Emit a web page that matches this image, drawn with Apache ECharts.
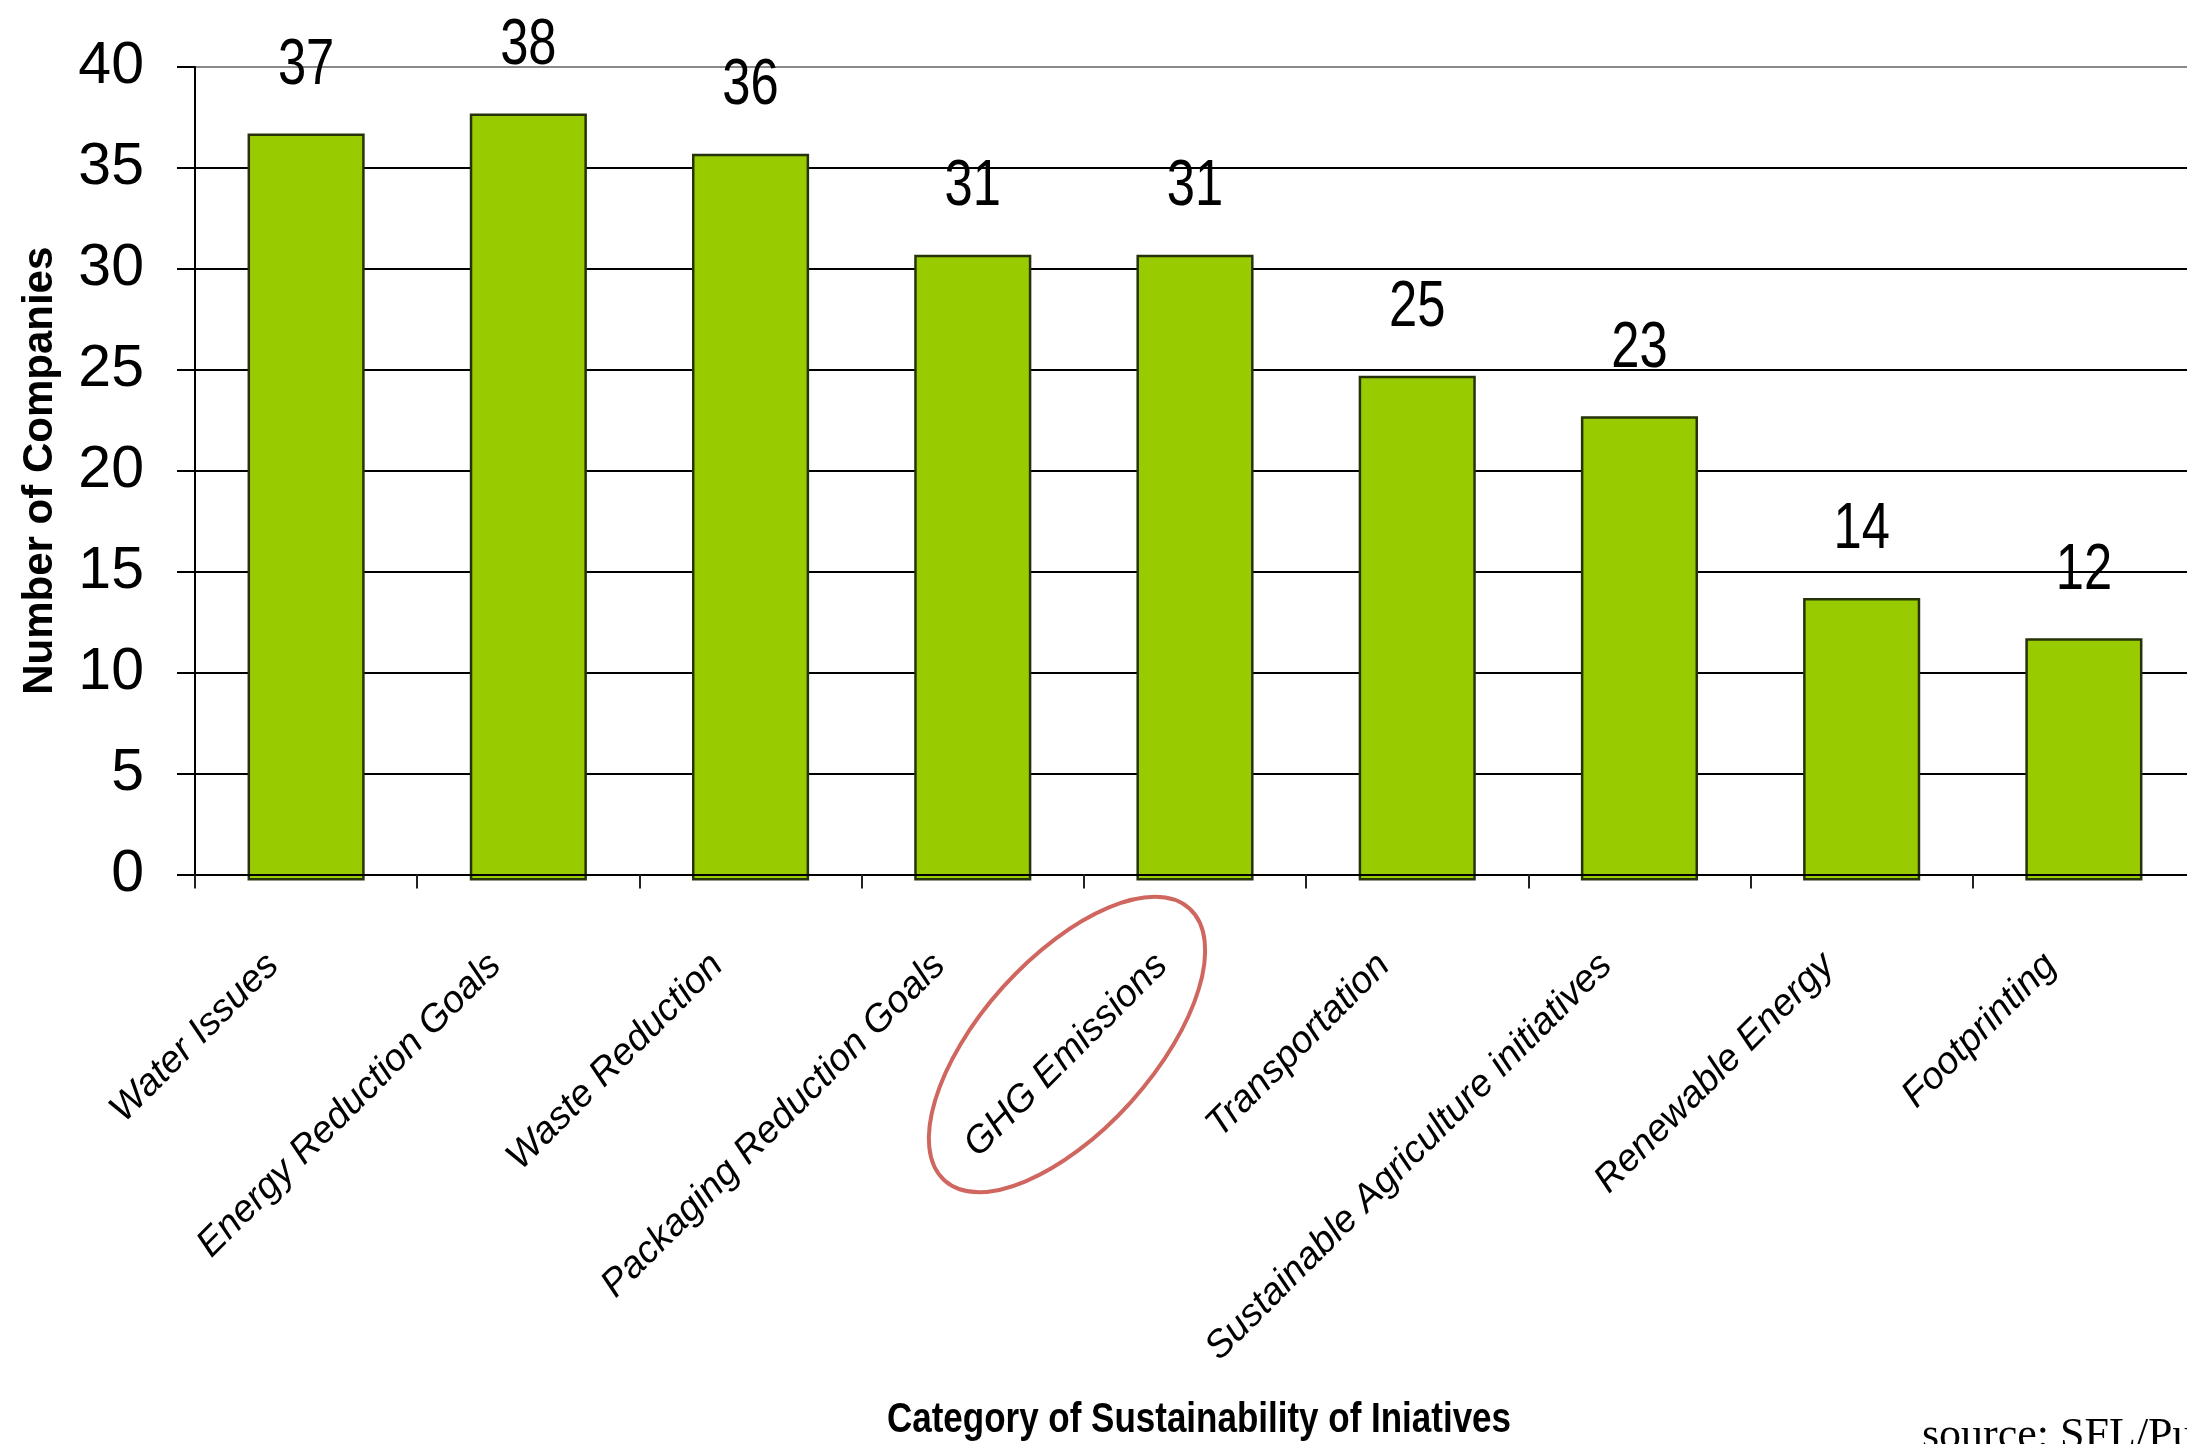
<!DOCTYPE html>
<html>
<head>
<meta charset="utf-8">
<style>
  html, body { margin: 0; padding: 0; background: #ffffff; }
  #chart { width: 2187px; height: 1444px; }
</style>
<script src="https://cdn.jsdelivr.net/npm/echarts@6/dist/echarts.min.js"></script>
</head>
<body>
<div id="chart"></div>
<script>
const categories = [
  'Water Issues',
  'Energy Reduction Goals',
  'Waste Reduction',
  'Packaging Reduction Goals',
  'GHG Emissions',
  'Transportation',
  'Sustainable Agriculture initiatives',
  'Renewable Energy',
  'Footprinting'
];
const companies = [37, 38, 36, 31, 31, 25, 23, 14, 12];
const yMin = 0, yMax = 40, yStep = 5;
const xTitle = 'Category of Sustainability of Iniatives';
const yTitle = 'Number of Companies';
const sourceNote = 'source: SFL/Pu';
const highlighted = 'GHG Emissions';

const SANS = '"Liberation Sans", Arial, Helvetica, sans-serif';

const G = { left: 195, right: -8, top: 67, bottom: 569.5 };
const BAR_SHIFT = 6;

const chart = echarts.init(document.getElementById('chart'), null, { renderer: 'canvas' });

const gridColors = [];
for (let v = yMin; v <= yMax; v += yStep) gridColors.push(v === yMax ? '#8a8a8a' : '#000000');

const labelData = companies.map((v, i) => [categories[i], v]);

chart.setOption({
  backgroundColor: '#ffffff',
  animation: false,
  grid: [
    { left: G.left, right: G.right, top: G.top, bottom: G.bottom, outerBoundsMode: 'none', containLabel: false },
    { left: G.left, right: G.right, top: G.top + BAR_SHIFT, bottom: G.bottom - BAR_SHIFT, outerBoundsMode: 'none', containLabel: false }
  ],
  xAxis: [
    {
      type: 'category', gridIndex: 0, data: categories, z: 5,
      boundaryGap: true,
      axisLine: { show: true, lineStyle: { color: '#000', width: 2 } },
      axisTick: { show: true, length: 14, alignWithLabel: false, lineStyle: { color: '#222', width: 2 } },
      axisLabel: {
        interval: 0, rotate: 45, margin: 52,
        padding: [0, 47, 0, 0],
        fontFamily: SANS, fontStyle: 'italic', fontSize: 38, color: '#000'
      }
    },
    {
      type: 'category', gridIndex: 1, data: categories, show: false
    }
  ],
  yAxis: [
    {
      type: 'value', gridIndex: 0, min: yMin, max: yMax, interval: yStep,
      axisLine: { show: true, lineStyle: { color: '#000', width: 2 } },
      axisTick: { show: true, length: 18, lineStyle: { color: '#000', width: 2 } },
      axisLabel: { margin: 51, fontFamily: SANS, fontSize: 59, color: '#000' },
      splitLine: { show: true, lineStyle: { color: gridColors, width: 2 } },
      name: yTitle, nameLocation: 'middle', nameGap: 134, nameRotate: 90,
      nameTextStyle: { fontFamily: SANS, fontWeight: 'bold', fontSize: 42, color: '#000' }
    },
    {
      type: 'value', gridIndex: 1, min: yMin, max: yMax, interval: yStep, show: false,
      splitLine: { show: false }
    }
  ],
  series: [
    {
      type: 'bar', xAxisIndex: 1, yAxisIndex: 1,
      data: companies,
      barWidth: '52.7%',
      itemStyle: { color: '#99cc00', borderColor: '#26330a', borderWidth: 2.5 },
      label: { show: false }
    },
    {
      // value labels above the bars (condensed like the original)
      type: 'custom', xAxisIndex: 1, yAxisIndex: 1,
      data: labelData,
      z: 6,
      renderItem: function (params, api) {
        const pt = api.coord([api.value(0), api.value(1)]);
        return {
          type: 'text',
          x: pt[0], y: pt[1] - 35,
          scaleX: 0.78,
          style: {
            text: String(api.value(1)),
            fontFamily: SANS, fontSize: 65, fill: '#000',
            align: 'center', verticalAlign: 'bottom'
          }
        };
      }
    }
  ]
});

// Annotation ellipse, x-axis title and source note
const catPx = chart.convertToPixel({ xAxisIndex: 0 }, highlighted);
const axisY = chart.convertToPixel({ yAxisIndex: 0 }, yMin);
const plotLeft = chart.convertToPixel({ xAxisIndex: 0 }, categories[0]);
const plotCenterX = G.left + (2187 - G.left - G.right) / 2;
chart.setOption({
  graphic: [
    {
      type: 'ellipse',
      x: catPx - 128, y: axisY + 170,
      rotation: 48 * Math.PI / 180,
      shape: { cx: 0, cy: 0, rx: 183, ry: 86 },
      style: { fill: 'none', stroke: '#cf665f', lineWidth: 4 },
      z: 10
    },
    {
      type: 'text',
      x: plotCenterX + 4, y: axisY + 546,
      scaleX: 0.833,
      style: {
        text: xTitle, fontFamily: SANS, fontWeight: 'bold', fontSize: 42, fill: '#000',
        align: 'center', verticalAlign: 'middle'
      },
      z: 10
    },
    {
      type: 'text',
      x: 1922, y: 1414,
      style: { text: sourceNote, font: '44px "Liberation Serif", "Times New Roman", serif', fill: '#000' },
      z: 10
    }
  ]
});
</script>
</body>
</html>
